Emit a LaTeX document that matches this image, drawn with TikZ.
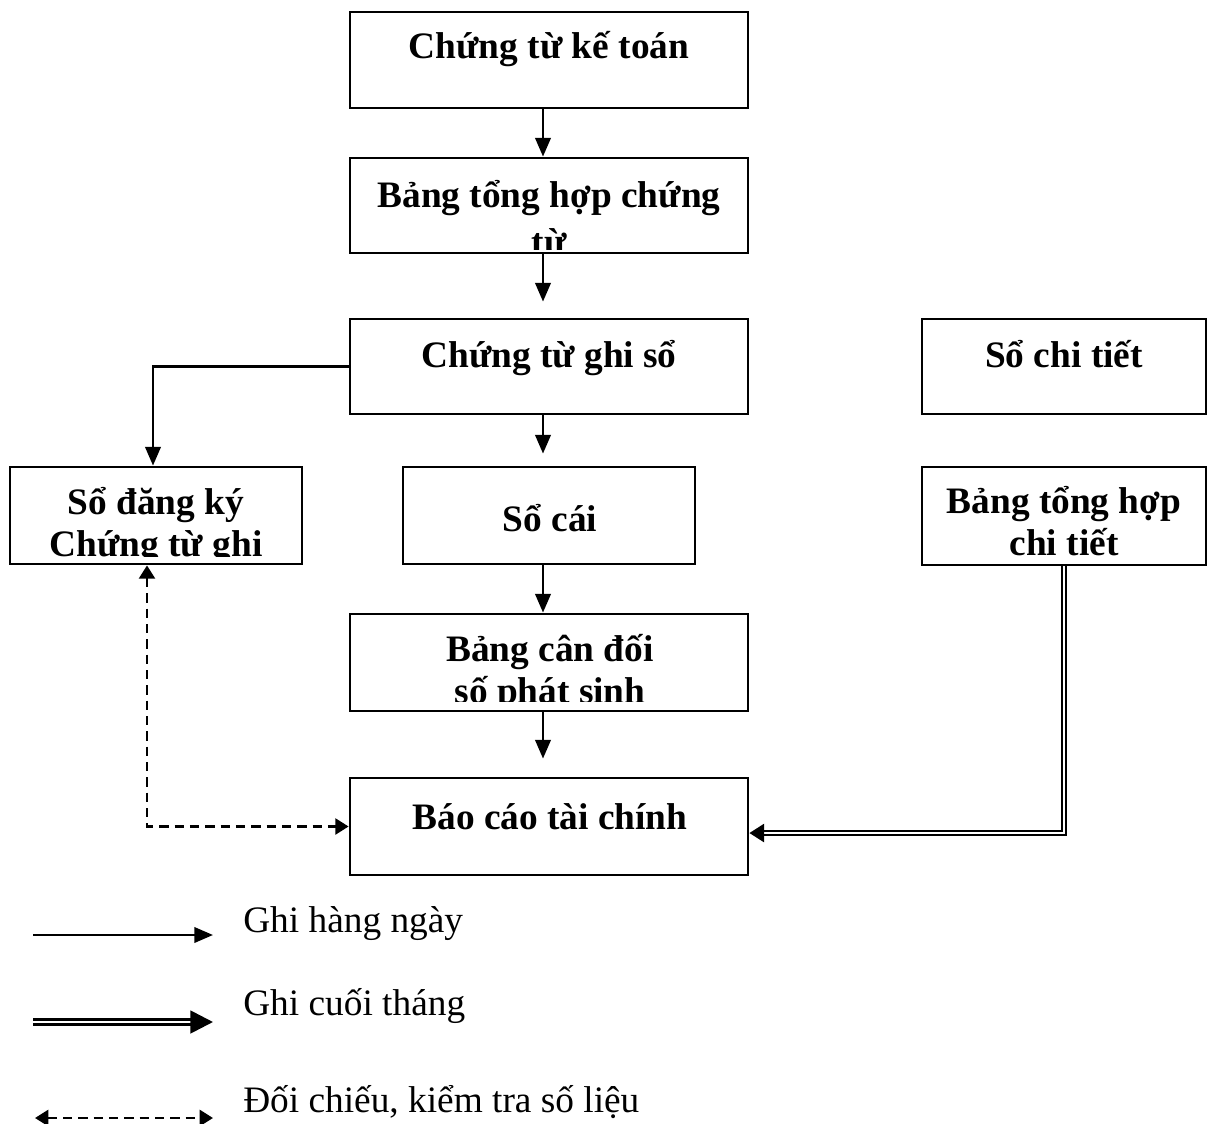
\documentclass[tikz,border=0pt]{standalone}
\usepackage{fontspec}
\setmainfont{Liberation Serif}
\usetikzlibrary{arrows.meta}
\begin{document}
\begin{tikzpicture}[x=0.75pt,y=-0.75pt,
  box/.style={draw, line width=2.1pt, inner sep=0pt},
  wbox/.style={box, minimum width=298.5pt},
  nbox/.style={box, minimum width=219pt},
  rbox/.style={box, minimum width=213pt},
  lbl/.style={font=\bfseries\fontsize{28}{34}\selectfont, inner sep=0pt, anchor=base},
  leg/.style={font=\fontsize{28}{34}\selectfont, inner sep=0pt, anchor=base west},
  arr/.style={line width=2pt, -{Triangle[length=14pt,width=11.5pt]}},
  dsh/.style={line width=2pt, dash pattern=on 7pt off 4.5pt, {Triangle[length=10pt,width=12pt]}-{Triangle[length=10pt,width=12pt]}},
  dbl/.style={double, line width=1.8pt, double distance=1.4pt, -{Triangle[length=11pt,width=13.5pt]}},
  dblleg/.style={double, line width=2.1pt, double distance=1.5pt, -{Triangle[length=17pt,width=17pt]}}
]
\useasboundingbox (0,0) rectangle (1208,1124);

% boxes
\node[wbox, minimum height=72pt] (b1) at (549,60) {};
\node[wbox, minimum height=71.25pt] (b2) at (549,205.5) {};
\node[wbox, minimum height=71.25pt] (b3) at (549,366.5) {};
\node[rbox, minimum height=71.25pt] (b4) at (1064,366.5) {};
\node[nbox, minimum height=72.75pt] (b5) at (156,515.5) {};
\node[nbox, minimum height=72.75pt] (b6) at (549,515.5) {};
\node[rbox, minimum height=73.5pt] (b7) at (1064,516) {};
\node[wbox, minimum height=72.75pt] (b8) at (549,662.5) {};
\node[wbox, minimum height=72.75pt] (b9) at (549,826.5) {};

% texts
\node[lbl] (t1) at (549,59) {Chứng từ kế toán};
\begin{scope}
  \clip (b2.north west) rectangle ([yshift=3.75pt]b2.south east);
  \node[lbl] (t2a) at (549,207) {Bảng tổng hợp chứng};
  \node[lbl] (t2b) at (549,254) {từ};
\end{scope}
\node[lbl] (t3) at (549,367) {Chứng từ ghi sổ};
\node[lbl] (t4) at (1064,367) {Sổ chi tiết};
\begin{scope}
  \clip (b5.north west) rectangle ([yshift=6.75pt]b5.south east);
  \node[lbl] (t5a) at (156,514) {Sổ đăng ký};
  \node[lbl] (t5b) at (156,556) {Chứng từ ghi};
\end{scope}
\node[lbl] (t6) at (550,531) {Sổ cái};
\node[lbl] (t7a) at (1064,513) {Bảng tổng hợp};
\node[lbl] (t7b) at (1064,555) {chi tiết};
\begin{scope}
  \clip (b8.north west) rectangle ([yshift=8.25pt]b8.south east);
  \node[lbl] (t8a) at (550,661) {Bảng cân đối};
  \node[lbl] (t8b) at (550,703) {số phát sinh};
\end{scope}
\node[lbl] (t9) at (550,829) {Báo cáo tài chính};

% connectors
\draw[arr] ([xshift=-4.5pt]b1.south) -- ([xshift=-4.5pt]b2.north);
\draw[arr] ([xshift=-4.5pt]b2.south) -- ([xshift=-4.5pt,yshift=12pt]b3.north);
\draw[arr] (b3.west) -| ([xshift=-2.25pt]b5.north);
\draw[arr] ([xshift=-4.5pt]b3.south) -- ([xshift=-4.5pt,yshift=9pt]b6.north);
\draw[arr] ([xshift=-4.5pt]b6.south) -- ([xshift=-4.5pt]b8.north);
\draw[arr] ([xshift=-4.5pt]b8.south) -- ([xshift=-4.5pt,yshift=13.5pt]b9.north);
\draw[dsh] ([xshift=-6.75pt]b5.south) |- (b9.west);
\draw[dbl] (b7.south) |- ([yshift=-4.9pt]b9.east);

% legend
\coordinate (l1s) at (33,935);
\coordinate (l1e) at (213,935);
\coordinate (l2s) at (33,1022);
\coordinate (l2e) at (213,1022);
\coordinate (l3s) at (35,1118);
\coordinate (l3e) at (213,1118);
\draw[arr] (l1s) -- (l1e);
\draw[dblleg] (l2s) -- (l2e);
\draw[dsh] (l3s) -- (l3e);
\node[leg] (g1) at (243,932) {Ghi hàng ngày};
\node[leg] (g2) at (243,1015) {Ghi cuối tháng};
\node[leg] (g3) at (243,1112) {Đối chiếu, kiểm tra số liệu};
\end{tikzpicture}
\end{document}
